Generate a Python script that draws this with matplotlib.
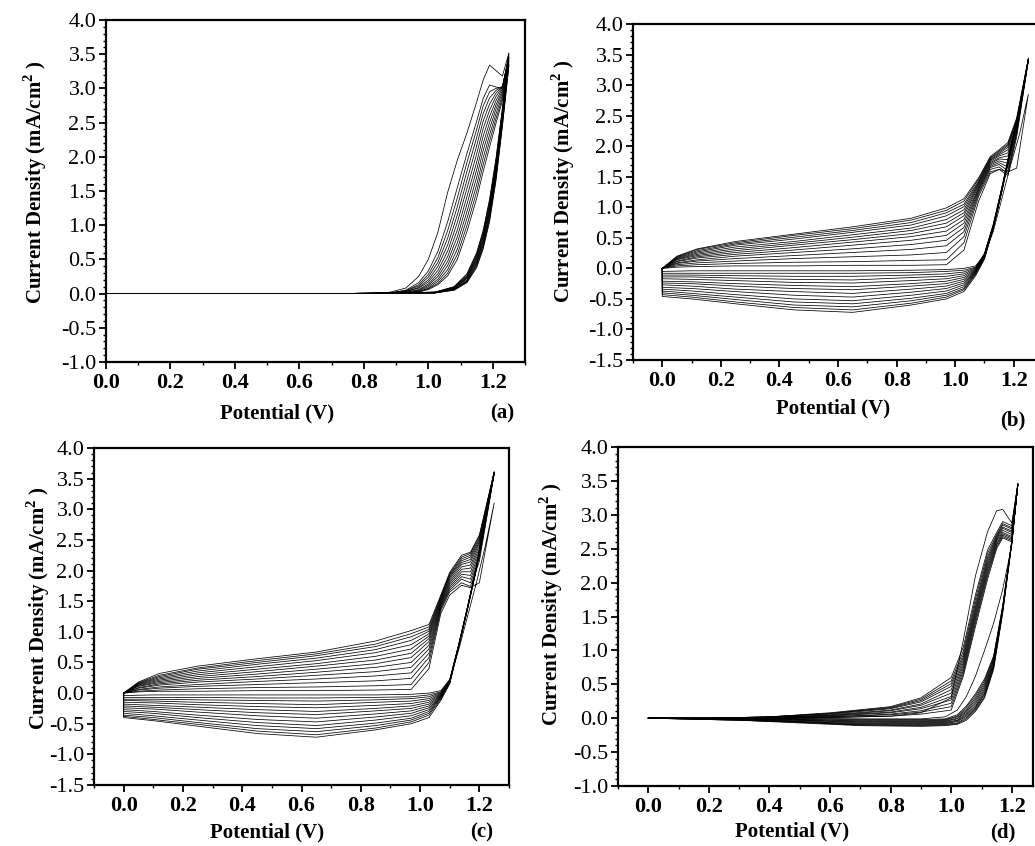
import matplotlib
matplotlib.use("Agg")
import matplotlib.pyplot as plt
from matplotlib.ticker import MultipleLocator

plt.rcParams['font.family'] = ['Liberation Serif', 'DejaVu Serif']
plt.rcParams['mathtext.fontset'] = 'custom'
plt.rcParams['mathtext.rm'] = 'Liberation Serif'
plt.rcParams['mathtext.bf'] = 'Liberation Serif:bold'

# ---------------- panel (a) ----------------
a_E_fwd = [0.00, 0.80, 0.88, 0.93, 0.97, 1.00, 1.03, 1.06, 1.09, 1.12, 1.15, 1.17, 1.19, 1.21, 1.23, 1.25]
a_I_fwd = [
    [0, 0, 0.02, 0.08, 0.25, 0.50, 0.90, 1.48, 1.95, 2.35, 2.80, 3.12, 3.34, 3.26, 3.18, 3.52],
    [0, 0, 0.01, 0.05, 0.16, 0.33, 0.62, 1.05, 1.55, 2.05, 2.52, 2.85, 3.05, 3.02, 3.00, 3.50],
    [0, 0, 0.01, 0.04, 0.13, 0.28, 0.53, 0.92, 1.40, 1.92, 2.40, 2.74, 2.95, 3.00, 3.02, 3.48],
    [0, 0, 0.01, 0.04, 0.11, 0.24, 0.46, 0.81, 1.27, 1.79, 2.28, 2.63, 2.86, 2.97, 3.03, 3.46],
    [0, 0, 0.01, 0.03, 0.09, 0.20, 0.40, 0.71, 1.15, 1.66, 2.16, 2.52, 2.77, 2.93, 3.03, 3.45],
    [0, 0, 0.00, 0.03, 0.08, 0.17, 0.34, 0.62, 1.04, 1.54, 2.04, 2.41, 2.68, 2.88, 3.02, 3.44],
    [0, 0, 0.00, 0.02, 0.06, 0.14, 0.29, 0.54, 0.93, 1.42, 1.92, 2.30, 2.59, 2.82, 3.00, 3.42],
    [0, 0, 0.00, 0.02, 0.05, 0.12, 0.25, 0.47, 0.83, 1.31, 1.81, 2.19, 2.50, 2.76, 2.97, 3.40],
    [0, 0, 0.00, 0.01, 0.04, 0.10, 0.21, 0.41, 0.74, 1.20, 1.70, 2.09, 2.41, 2.70, 2.94, 3.38],
    [0, 0, 0.00, 0.01, 0.03, 0.08, 0.18, 0.35, 0.65, 1.10, 1.59, 1.98, 2.32, 2.63, 2.90, 3.36],
    [0, 0, 0.00, 0.01, 0.03, 0.07, 0.15, 0.30, 0.57, 1.00, 1.49, 1.88, 2.23, 2.56, 2.86, 3.34],
    [0, 0, 0.00, 0.01, 0.02, 0.06, 0.13, 0.26, 0.50, 0.91, 1.39, 1.78, 2.14, 2.49, 2.82, 3.32],
]
a_E_rev = [1.23, 1.21, 1.19, 1.17, 1.15, 1.12, 1.08, 1.02, 0.72]
a_I_rev = [
    [2.72, 1.98, 1.38, 0.92, 0.60, 0.29, 0.10, 0.02, 0.0],
    [2.70, 1.95, 1.35, 0.90, 0.58, 0.28, 0.10, 0.02, 0.0],
    [2.67, 1.92, 1.32, 0.87, 0.56, 0.26, 0.09, 0.02, 0.0],
    [2.65, 1.89, 1.29, 0.85, 0.54, 0.25, 0.09, 0.02, 0.0],
    [2.62, 1.86, 1.26, 0.82, 0.52, 0.24, 0.08, 0.02, 0.0],
    [2.60, 1.83, 1.23, 0.80, 0.50, 0.23, 0.08, 0.02, 0.0],
    [2.57, 1.80, 1.20, 0.77, 0.48, 0.22, 0.07, 0.01, 0.0],
    [2.55, 1.77, 1.17, 0.75, 0.46, 0.20, 0.07, 0.01, 0.0],
    [2.52, 1.74, 1.14, 0.72, 0.44, 0.19, 0.06, 0.01, 0.0],
    [2.50, 1.71, 1.11, 0.70, 0.42, 0.18, 0.06, 0.01, 0.0],
    [2.47, 1.68, 1.08, 0.67, 0.40, 0.17, 0.05, 0.01, 0.0],
    [2.45, 1.65, 1.05, 0.65, 0.38, 0.16, 0.05, 0.01, 0.0],
]

# ---------------- panel (b) ----------------
b_E_fwd = [0.00, 0.05, 0.12, 0.25, 0.45, 0.65, 0.85, 0.97, 1.03, 1.08, 1.12, 1.15, 1.18, 1.21, 1.25]
b_I_fwd = [
    [0, 0.02, 0.03, 0.04, 0.04, 0.05, 0.05, 0.06, 0.30, 1.10, 1.55, 1.62, 1.58, 1.64, 2.85],
    [0, 0.04, 0.06, 0.08, 0.10, 0.11, 0.13, 0.14, 0.42, 1.18, 1.58, 1.62, 1.52, 2.15, 3.40],
    [0, 0.06, 0.09, 0.12, 0.16, 0.19, 0.22, 0.26, 0.52, 1.22, 1.62, 1.66, 1.55, 2.20, 3.40],
    [0, 0.08, 0.12, 0.16, 0.21, 0.26, 0.31, 0.37, 0.60, 1.25, 1.65, 1.70, 1.60, 2.22, 3.41],
    [0, 0.09, 0.14, 0.20, 0.26, 0.32, 0.39, 0.46, 0.67, 1.28, 1.67, 1.73, 1.66, 2.25, 3.41],
    [0, 0.11, 0.17, 0.23, 0.30, 0.38, 0.46, 0.54, 0.74, 1.30, 1.69, 1.76, 1.72, 2.27, 3.41],
    [0, 0.12, 0.19, 0.26, 0.34, 0.43, 0.52, 0.61, 0.80, 1.32, 1.71, 1.79, 1.78, 2.30, 3.42],
    [0, 0.14, 0.21, 0.29, 0.38, 0.47, 0.57, 0.68, 0.86, 1.35, 1.73, 1.81, 1.84, 2.32, 3.42],
    [0, 0.15, 0.23, 0.32, 0.41, 0.51, 0.62, 0.74, 0.91, 1.37, 1.75, 1.84, 1.89, 2.35, 3.42],
    [0, 0.16, 0.25, 0.35, 0.44, 0.55, 0.66, 0.80, 0.96, 1.39, 1.77, 1.86, 1.94, 2.37, 3.42],
    [0, 0.17, 0.27, 0.38, 0.48, 0.59, 0.71, 0.86, 1.01, 1.41, 1.78, 1.88, 1.98, 2.40, 3.43],
    [0, 0.18, 0.29, 0.40, 0.51, 0.62, 0.75, 0.91, 1.05, 1.43, 1.80, 1.90, 2.01, 2.42, 3.43],
    [0, 0.19, 0.31, 0.42, 0.54, 0.65, 0.79, 0.95, 1.10, 1.46, 1.81, 1.92, 2.03, 2.44, 3.43],
    [0, 0.20, 0.32, 0.44, 0.56, 0.68, 0.82, 0.99, 1.14, 1.48, 1.83, 1.94, 2.06, 2.46, 3.44],
]
b_E_rev = [1.22, 1.19, 1.16, 1.13, 1.10, 1.07, 1.03, 0.97, 0.85, 0.65, 0.45, 0.25, 0.10, 0.00]
b_I_rev = [
    [2.20, 1.70, 1.15, 0.60, 0.22, 0.04, 0.00, -0.02, -0.03, -0.04, -0.04, -0.04, -0.04, -0.05],
    [2.64, 2.00, 1.34, 0.72, 0.24, 0.02, -0.03, -0.05, -0.07, -0.08, -0.08, -0.08, -0.08, -0.08],
    [2.63, 1.99, 1.33, 0.71, 0.24, 0.01, -0.06, -0.09, -0.11, -0.13, -0.13, -0.12, -0.11, -0.11],
    [2.62, 1.98, 1.32, 0.70, 0.23, 0.00, -0.09, -0.13, -0.15, -0.19, -0.18, -0.16, -0.14, -0.14],
    [2.62, 1.97, 1.31, 0.69, 0.23, -0.01, -0.12, -0.17, -0.20, -0.24, -0.23, -0.20, -0.18, -0.17],
    [2.61, 1.97, 1.31, 0.69, 0.22, -0.02, -0.15, -0.21, -0.25, -0.30, -0.28, -0.25, -0.22, -0.21],
    [2.61, 1.96, 1.30, 0.68, 0.22, -0.03, -0.18, -0.25, -0.29, -0.35, -0.33, -0.29, -0.25, -0.24],
    [2.60, 1.96, 1.30, 0.68, 0.21, -0.04, -0.21, -0.29, -0.34, -0.41, -0.38, -0.34, -0.29, -0.27],
    [2.60, 1.95, 1.29, 0.67, 0.20, -0.05, -0.24, -0.33, -0.39, -0.47, -0.44, -0.38, -0.33, -0.31],
    [2.59, 1.95, 1.29, 0.67, 0.19, -0.06, -0.27, -0.37, -0.44, -0.53, -0.50, -0.43, -0.37, -0.34],
    [2.59, 1.94, 1.28, 0.66, 0.18, -0.07, -0.30, -0.41, -0.49, -0.58, -0.55, -0.47, -0.41, -0.37],
    [2.58, 1.94, 1.28, 0.66, 0.17, -0.08, -0.33, -0.44, -0.53, -0.63, -0.60, -0.51, -0.44, -0.40],
    [2.58, 1.93, 1.27, 0.65, 0.16, -0.10, -0.35, -0.47, -0.57, -0.68, -0.64, -0.55, -0.47, -0.43],
    [2.57, 1.93, 1.27, 0.65, 0.15, -0.12, -0.38, -0.50, -0.60, -0.72, -0.68, -0.58, -0.50, -0.46],
]

# ---------------- panel (c) ----------------
c_E_fwd = [0.00, 0.05, 0.12, 0.25, 0.45, 0.65, 0.85, 0.97, 1.03, 1.07, 1.10, 1.14, 1.17, 1.20, 1.25]
c_I_fwd = [
    [0, 0.02, 0.03, 0.03, 0.04, 0.04, 0.05, 0.06, 0.40, 1.30, 1.60, 1.76, 1.72, 1.80, 3.10],
    [0, 0.03, 0.05, 0.07, 0.09, 0.10, 0.12, 0.14, 0.50, 1.35, 1.65, 1.80, 1.74, 2.15, 3.58],
    [0, 0.05, 0.08, 0.11, 0.14, 0.17, 0.20, 0.24, 0.58, 1.38, 1.68, 1.86, 1.80, 2.20, 3.58],
    [0, 0.06, 0.10, 0.14, 0.19, 0.23, 0.28, 0.33, 0.65, 1.40, 1.71, 1.90, 1.86, 2.24, 3.58],
    [0, 0.08, 0.13, 0.18, 0.23, 0.29, 0.35, 0.42, 0.72, 1.42, 1.74, 1.94, 1.92, 2.28, 3.59],
    [0, 0.09, 0.15, 0.21, 0.27, 0.34, 0.42, 0.50, 0.78, 1.44, 1.77, 1.98, 1.98, 2.32, 3.59],
    [0, 0.11, 0.17, 0.24, 0.31, 0.39, 0.48, 0.58, 0.84, 1.46, 1.80, 2.02, 2.04, 2.36, 3.59],
    [0, 0.12, 0.19, 0.27, 0.35, 0.44, 0.54, 0.65, 0.89, 1.48, 1.83, 2.06, 2.09, 2.40, 3.60],
    [0, 0.13, 0.21, 0.30, 0.39, 0.48, 0.60, 0.72, 0.93, 1.50, 1.86, 2.10, 2.14, 2.44, 3.60],
    [0, 0.14, 0.23, 0.33, 0.43, 0.53, 0.66, 0.79, 0.97, 1.52, 1.89, 2.13, 2.18, 2.47, 3.60],
    [0, 0.15, 0.25, 0.36, 0.47, 0.57, 0.71, 0.86, 1.01, 1.54, 1.91, 2.16, 2.22, 2.50, 3.60],
    [0, 0.16, 0.27, 0.39, 0.50, 0.61, 0.76, 0.92, 1.04, 1.56, 1.93, 2.19, 2.25, 2.53, 3.61],
    [0, 0.17, 0.29, 0.41, 0.53, 0.64, 0.80, 0.97, 1.08, 1.58, 1.95, 2.22, 2.28, 2.56, 3.61],
    [0, 0.18, 0.32, 0.44, 0.56, 0.67, 0.85, 1.02, 1.12, 1.60, 1.97, 2.25, 2.30, 2.58, 3.61],
]
c_E_rev = [1.22, 1.19, 1.16, 1.13, 1.10, 1.07, 1.03, 0.97, 0.85, 0.65, 0.45, 0.25, 0.10, 0.00]
c_I_rev = [
    [2.40, 1.80, 1.25, 0.70, 0.22, 0.04, 0.00, -0.02, -0.03, -0.03, -0.03, -0.03, -0.03, -0.04],
    [2.86, 2.06, 1.41, 0.79, 0.22, 0.02, -0.03, -0.06, -0.07, -0.08, -0.08, -0.07, -0.07, -0.07],
    [2.86, 2.06, 1.40, 0.78, 0.21, 0.01, -0.06, -0.09, -0.11, -0.13, -0.12, -0.11, -0.10, -0.10],
    [2.85, 2.05, 1.40, 0.78, 0.21, 0.00, -0.09, -0.13, -0.15, -0.19, -0.17, -0.15, -0.13, -0.12],
    [2.85, 2.05, 1.40, 0.78, 0.20, -0.01, -0.12, -0.17, -0.20, -0.24, -0.22, -0.19, -0.16, -0.15],
    [2.85, 2.05, 1.39, 0.77, 0.20, -0.02, -0.15, -0.21, -0.25, -0.30, -0.27, -0.23, -0.20, -0.18],
    [2.84, 2.04, 1.39, 0.77, 0.19, -0.03, -0.18, -0.25, -0.29, -0.35, -0.32, -0.27, -0.23, -0.21],
    [2.84, 2.04, 1.39, 0.77, 0.19, -0.04, -0.21, -0.29, -0.34, -0.41, -0.37, -0.31, -0.26, -0.24],
    [2.84, 2.04, 1.38, 0.76, 0.18, -0.05, -0.24, -0.33, -0.39, -0.47, -0.43, -0.36, -0.30, -0.27],
    [2.83, 2.03, 1.38, 0.76, 0.18, -0.06, -0.27, -0.37, -0.44, -0.53, -0.48, -0.40, -0.33, -0.30],
    [2.83, 2.03, 1.38, 0.76, 0.17, -0.07, -0.30, -0.41, -0.49, -0.58, -0.53, -0.44, -0.37, -0.33],
    [2.83, 2.03, 1.37, 0.75, 0.17, -0.08, -0.33, -0.44, -0.53, -0.63, -0.58, -0.48, -0.40, -0.36],
    [2.82, 2.02, 1.37, 0.75, 0.16, -0.10, -0.36, -0.47, -0.57, -0.68, -0.62, -0.51, -0.43, -0.38],
    [2.82, 2.02, 1.37, 0.75, 0.15, -0.12, -0.40, -0.50, -0.60, -0.72, -0.66, -0.54, -0.45, -0.40],
]

# ---------------- panel (d) ----------------
d_E_fwd = [0.00, 0.20, 0.40, 0.60, 0.80, 0.90, 1.00, 1.04, 1.08, 1.12, 1.15, 1.17, 1.20, 1.22]
d_I_fwd = [
    [0, 0.00, 0.00, 0.01, 0.03, 0.08, 0.30, 1.15, 2.10, 2.75, 3.06, 3.08, 2.88, 3.45],
    [0, 0.00, 0.00, 0.01, 0.03, 0.06, 0.12, 0.62, 1.35, 2.05, 2.50, 2.66, 2.60, 3.44],
    [0, 0.00, 0.00, 0.02, 0.05, 0.09, 0.17, 0.66, 1.40, 2.10, 2.53, 2.68, 2.62, 3.44],
    [0, 0.00, 0.01, 0.02, 0.06, 0.11, 0.22, 0.70, 1.45, 2.14, 2.56, 2.70, 2.64, 3.44],
    [0, 0.00, 0.01, 0.03, 0.08, 0.14, 0.27, 0.74, 1.49, 2.18, 2.58, 2.72, 2.66, 3.45],
    [0, 0.00, 0.01, 0.04, 0.09, 0.16, 0.32, 0.78, 1.53, 2.22, 2.61, 2.74, 2.68, 3.45],
    [0, 0.00, 0.01, 0.04, 0.11, 0.19, 0.37, 0.82, 1.57, 2.26, 2.63, 2.77, 2.71, 3.45],
    [0, 0.00, 0.01, 0.05, 0.12, 0.21, 0.42, 0.86, 1.61, 2.30, 2.65, 2.80, 2.74, 3.45],
    [0, 0.00, 0.02, 0.06, 0.14, 0.24, 0.47, 0.90, 1.65, 2.34, 2.67, 2.82, 2.76, 3.46],
    [0, 0.00, 0.02, 0.07, 0.15, 0.26, 0.51, 0.94, 1.70, 2.38, 2.69, 2.85, 2.79, 3.46],
    [0, 0.00, 0.02, 0.07, 0.16, 0.28, 0.55, 0.99, 1.76, 2.43, 2.71, 2.87, 2.81, 3.46],
    [0, 0.00, 0.02, 0.08, 0.17, 0.30, 0.60, 1.05, 1.82, 2.48, 2.74, 2.90, 2.84, 3.46],
]
d_E_rev = [1.20, 1.17, 1.14, 1.11, 1.08, 1.05, 1.02, 0.98, 0.90, 0.70, 0.50, 0.30, 0.00]
d_I_rev = [
    [2.55, 1.90, 1.40, 1.00, 0.62, 0.32, 0.12, 0.02, -0.01, -0.01, 0.00, 0.00, 0.0],
    [2.62, 1.66, 0.92, 0.58, 0.36, 0.18, 0.05, -0.01, -0.02, -0.02, -0.01, 0.00, 0.0],
    [2.62, 1.65, 0.90, 0.55, 0.33, 0.16, 0.03, -0.02, -0.03, -0.03, -0.02, -0.01, 0.0],
    [2.61, 1.64, 0.88, 0.52, 0.30, 0.13, 0.02, -0.03, -0.04, -0.04, -0.02, -0.01, 0.0],
    [2.61, 1.63, 0.86, 0.49, 0.27, 0.11, 0.00, -0.04, -0.05, -0.05, -0.03, -0.01, 0.0],
    [2.60, 1.62, 0.84, 0.46, 0.24, 0.09, -0.01, -0.05, -0.06, -0.06, -0.03, -0.01, 0.0],
    [2.60, 1.61, 0.82, 0.43, 0.21, 0.07, -0.03, -0.06, -0.07, -0.07, -0.04, -0.02, 0.0],
    [2.59, 1.60, 0.80, 0.40, 0.18, 0.05, -0.04, -0.07, -0.08, -0.08, -0.05, -0.02, 0.0],
    [2.59, 1.59, 0.78, 0.37, 0.16, 0.03, -0.05, -0.08, -0.09, -0.09, -0.05, -0.02, 0.0],
    [2.58, 1.58, 0.76, 0.35, 0.14, 0.01, -0.07, -0.09, -0.10, -0.10, -0.06, -0.03, 0.0],
    [2.58, 1.57, 0.74, 0.32, 0.12, -0.01, -0.08, -0.10, -0.11, -0.10, -0.06, -0.03, 0.0],
    [2.58, 1.55, 0.72, 0.30, 0.10, -0.03, -0.09, -0.11, -0.12, -0.11, -0.07, -0.03, 0.0],
]

W, H = 1035, 846
fig = plt.figure(figsize=(W / 100, H / 100), dpi=100)


def px_axes(left, top, right, bottom):
    # axes box given in pixels of the final image
    return fig.add_axes([left / W, 1 - bottom / H, (right - left) / W, (bottom - top) / H])


def px_text(x, y, s, **kw):
    fig.text(x / W, 1 - y / H, s, **kw)


def draw_cycles(ax, e_fwd, i_fwd, e_rev, i_rev, close=False):
    for fwd, rev in zip(i_fwd, i_rev):
        xs = list(e_fwd) + list(e_rev)
        ys = list(fwd) + list(rev)
        if close:
            xs.append(xs[0])
            ys.append(ys[0])
        ax.plot(xs, ys, color='black', lw=0.55)


def style_axes(ax, xlim, ylim):
    ax.set_xlim(*xlim)
    ax.set_ylim(*ylim)
    ax.xaxis.set_major_locator(MultipleLocator(0.2))
    ax.xaxis.set_minor_locator(MultipleLocator(0.1))
    ax.yaxis.set_major_locator(MultipleLocator(0.5))
    ax.yaxis.set_minor_locator(MultipleLocator(0.1))
    ax.xaxis.set_major_formatter(plt.FuncFormatter(lambda v, p: f'{v:.1f}'))
    ax.yaxis.set_major_formatter(plt.FuncFormatter(lambda v, p: f'{v:.1f}'))
    ax.tick_params(which='major', direction='out', length=5, width=1.3, labelsize=16)
    ax.tick_params(which='minor', direction='out', length=2.5, width=1.0)
    ax.tick_params(axis='x', pad=3)
    ax.tick_params(axis='y', pad=2)
    for lab in ax.get_xticklabels():
        lab.set_fontweight('bold')
    for sp in ax.spines.values():
        sp.set_linewidth(1.6)


ylabel_text = r'Current Density (mA/cm$^{\mathbf{2}}$ )'

panels = [
    # axes px box, xlim, ylim, data, close loop, ylabel pos, xlabel pos, letter, letter pos
    ((106, 20, 525, 362), (0.0, 1.3), (-1.0, 4.0),
     (a_E_fwd, a_I_fwd, a_E_rev, a_I_rev), False,
     (35, 182), (277, 413), '(a)', (502, 413)),
    ((633, 24, 1043, 360), (-0.1, 1.3), (-1.5, 4.0),
     (b_E_fwd, b_I_fwd, b_E_rev, b_I_rev), True,
     (563, 181), (833, 408), '(b)', (1013, 420)),
    ((94, 448, 509, 785), (-0.1, 1.3), (-1.5, 4.0),
     (c_E_fwd, c_I_fwd, c_E_rev, c_I_rev), True,
     (38, 608), (267, 832), '(c)', (482, 832)),
    ((618, 447, 1033, 786), (-0.1, 1.27), (-1.0, 4.0),
     (d_E_fwd, d_I_fwd, d_E_rev, d_I_rev), False,
     (551, 604), (792, 831), '(d)', (1003, 832)),
]

for box, xlim, ylim, data, close, ylab, xlab, letter, lpos in panels:
    ax = px_axes(*box)
    draw_cycles(ax, *data, close=close)
    style_axes(ax, xlim, ylim)
    px_text(ylab[0], ylab[1], ylabel_text, rotation=90,
            ha='center', va='center', fontsize=15, fontweight='bold')
    px_text(xlab[0], xlab[1], 'Potential (V)', ha='center', va='center',
            fontsize=15, fontweight='bold')
    px_text(lpos[0], lpos[1], letter, ha='center', va='center',
            fontsize=15, fontweight='bold')

fig.savefig('out.png', dpi=100)
